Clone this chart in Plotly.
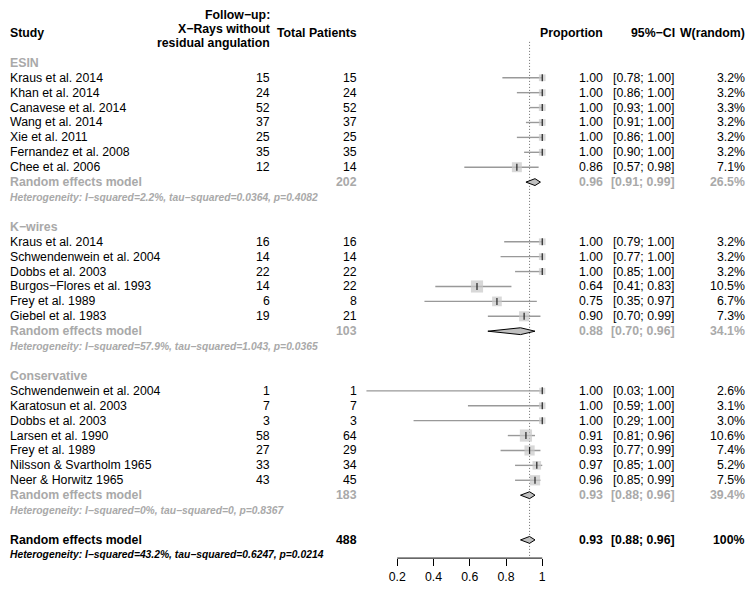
import plotly.graph_objects as go

# ---- data ----
group_names = ["ESIN", "K−wires", "Conservative"]

study_names = [
    ["Kraus et al. 2014", "Khan et al. 2014", "Canavese et al. 2014", "Wang et al. 2014",
     "Xie et al. 2011", "Fernandez et al. 2008", "Chee et al. 2006"],
    ["Kraus et al. 2014", "Schwendenwein et al. 2004", "Dobbs et al. 2003",
     "Burgos−Flores et al. 1993", "Frey et al. 1989", "Giebel et al. 1983"],
    ["Schwendenwein et al. 2004", "Karatosun et al. 2003", "Dobbs et al. 2003",
     "Larsen et al. 1990", "Frey et al. 1989", "Nilsson & Svartholm 1965", "Neer & Horwitz 1965"],
]
events = [[15, 24, 52, 37, 25, 35, 12], [16, 14, 22, 14, 6, 19], [1, 7, 3, 58, 27, 33, 43]]
totals = [[15, 24, 52, 37, 25, 35, 14], [16, 14, 22, 22, 8, 21], [1, 7, 3, 64, 29, 34, 45]]
proportion = [[1.00, 1.00, 1.00, 1.00, 1.00, 1.00, 0.86],
              [1.00, 1.00, 1.00, 0.64, 0.75, 0.90],
              [1.00, 1.00, 1.00, 0.91, 0.93, 0.97, 0.96]]
ci_lower = [[0.78, 0.86, 0.93, 0.91, 0.86, 0.90, 0.57],
            [0.79, 0.77, 0.85, 0.41, 0.35, 0.70],
            [0.03, 0.59, 0.29, 0.81, 0.77, 0.85, 0.85]]
ci_upper = [[1.00, 1.00, 1.00, 1.00, 1.00, 1.00, 0.98],
            [1.00, 1.00, 1.00, 0.83, 0.97, 0.99],
            [1.00, 1.00, 1.00, 0.96, 0.99, 1.00, 0.99]]
weights = [[3.2, 3.2, 3.3, 3.2, 3.2, 3.2, 7.1],
           [3.2, 3.2, 3.2, 10.5, 6.7, 7.3],
           [2.6, 3.1, 3.0, 10.6, 7.4, 5.2, 7.5]]

sub_total = [202, 103, 183]
sub_est = [0.96, 0.88, 0.93]
sub_lower = [0.91, 0.70, 0.88]
sub_upper = [0.99, 0.96, 0.96]
sub_weight = ["26.5%", "34.1%", "39.4%"]
sub_het = ["I−squared=2.2%, tau−squared=0.0364, p=0.4082",
           "I−squared=57.9%, tau−squared=1.043, p=0.0365",
           "I−squared=0%, tau−squared=0, p=0.8367"]

overall_total = 488
overall_est = 0.93
overall_lower = 0.88
overall_upper = 0.96
overall_weight = "100%"
overall_het = "I−squared=43.2%, tau−squared=0.6247, p=0.0214"

tick_vals = [0.2, 0.4, 0.6, 0.8, 1.0]
tick_text = ["0.2", "0.4", "0.6", "0.8", "1"]

# ---- layout constants (window pixels; page body adds an 8px margin) ----
PAGE_MARGIN = 8
W, H = 755 - PAGE_MARGIN, 592 - 2 * PAGE_MARGIN
ROW0, ROWH = 78, 14.96          # window y of first study row, row height
X0PX, XUNIT = 361, 181.25       # window x of proportion 0, pixels per unit
AXIS_ROW = 32.22
FONT = "Liberation Sans, Arial, sans-serif"
FS = 12.3
GREY = "#a9a9a9"

COL_NAME, COL_EV, COL_TOT = 1, 272, 359
COL_PROP, COL_CI, COL_W = 605, 677, 747


def px_to_row(py):
    return (py - ROW0) / ROWH


def fmt(v):
    return f"{v:.2f}"


annotations = []


def text(px, row, s, anchor="right", color="black", size=FS, bold=False, italic=False):
    if bold:
        s = f"<b>{s}</b>"
    if italic:
        s = f"<i>{s}</i>"
    xp = max(px - PAGE_MARGIN, 0) / W
    annotations.append(dict(
        x=xp, xref="paper", y=row, yref="y", text=s, showarrow=False,
        xanchor=anchor, yanchor="middle", font=dict(family=FONT, size=size, color=color),
    ))


# header
text(COL_NAME, px_to_row(33), "Study", anchor="left", bold=True)
text(COL_EV, px_to_row(15), "Follow−up:", bold=True)
text(COL_EV, px_to_row(29), "X−Rays without", bold=True)
text(COL_EV, px_to_row(43), "residual angulation", bold=True)
text(COL_TOT, px_to_row(33), "Total Patients", bold=True)
text(COL_PROP, px_to_row(33), "Proportion", bold=True)
text(COL_CI, px_to_row(33), "95%−CI", bold=True)
text(COL_W, px_to_row(33), "W(random)", bold=True)

ci_x, ci_y = [], []
sq_x, sq_y, sq_size = [], [], []
diamonds = []

row = -1
for g, gname in enumerate(group_names):
    text(COL_NAME, row, gname, anchor="left", color=GREY, bold=True)
    row += 1
    for i, name in enumerate(study_names[g]):
        text(COL_NAME, row, name, anchor="left")
        text(COL_EV, row, str(events[g][i]))
        text(COL_TOT, row, str(totals[g][i]))
        text(COL_PROP, row, fmt(proportion[g][i]))
        text(COL_CI, row, f"[{fmt(ci_lower[g][i])}; {fmt(ci_upper[g][i])}]")
        text(COL_W, row, f"{weights[g][i]}%")
        ci_x += [ci_lower[g][i], ci_upper[g][i], None]
        ci_y += [row, row, None]
        sq_x.append(proportion[g][i])
        sq_y.append(row)
        sq_size.append(3.745 * weights[g][i] ** 0.5)
        row += 1
    text(COL_NAME, row, "Random effects model", anchor="left", color=GREY, bold=True)
    text(COL_TOT, row, str(sub_total[g]), color=GREY, bold=True)
    text(COL_PROP, row, fmt(sub_est[g]), color=GREY, bold=True)
    text(COL_CI, row, f"[{fmt(sub_lower[g])}; {fmt(sub_upper[g])}]", color=GREY, bold=True)
    text(COL_W, row, sub_weight[g], color=GREY, bold=True)
    diamonds.append((sub_lower[g], sub_est[g], sub_upper[g], row))
    row += 1
    text(COL_NAME, row, "Heterogeneity: " + sub_het[g], anchor="left", color=GREY,
         size=10.3, bold=True, italic=True)
    row += 2

text(COL_NAME, row, "Random effects model", anchor="left", bold=True)
text(COL_TOT, row, str(overall_total), bold=True)
text(COL_PROP, row, fmt(overall_est), bold=True)
text(COL_CI, row, f"[{fmt(overall_lower)}; {fmt(overall_upper)}]", bold=True)
text(COL_W, row, overall_weight, bold=True)
diamonds.append((overall_lower, overall_est, overall_upper, row))
text(COL_NAME, row + 1, "Heterogeneity: " + overall_het, anchor="left",
     size=10.3, bold=True, italic=True)

fig = go.Figure()

# reference line at overall estimate
fig.add_trace(go.Scatter(
    x=[overall_est, overall_est], y=[px_to_row(42), AXIS_ROW], mode="lines",
    line=dict(color="#6e6e6e", width=1, dash="1px,2px"), hoverinfo="skip",
))

# confidence intervals
fig.add_trace(go.Scatter(
    x=ci_x, y=ci_y, mode="lines", line=dict(color="#999999", width=1.4), hoverinfo="skip",
))

# weighted squares
fig.add_trace(go.Scatter(
    x=sq_x, y=sq_y, mode="markers",
    marker=dict(symbol="square", size=sq_size, color="#c8c8c8", line=dict(width=0)),
    hoverinfo="skip",
))

# point estimate ticks
fig.add_trace(go.Scatter(
    x=sq_x, y=sq_y, mode="markers",
    marker=dict(symbol="line-ns", size=5, line=dict(color="#222222", width=1.2)),
    hoverinfo="skip",
))

# pooled diamonds
HALF = 0.23
for lo, est, hi, r in diamonds:
    fig.add_trace(go.Scatter(
        x=[lo, est, hi, est, lo], y=[r, r - HALF, r, r + HALF, r],
        mode="lines", fill="toself", fillcolor="#c0c0c0",
        line=dict(color="black", width=1), hoverinfo="skip",
    ))

# x-axis baseline only between first and last tick
axis_px = ROW0 + AXIS_ROW * ROWH
axis_paper = 1 - (axis_px - PAGE_MARGIN) / H
fig.add_shape(type="line", xref="x", yref="paper",
              x0=tick_vals[0], x1=tick_vals[-1], y0=axis_paper, y1=axis_paper,
              line=dict(color="black", width=1))

fig.update_layout(
    width=W, height=H,
    margin=dict(l=0, r=0, t=0, b=0),
    paper_bgcolor="white", plot_bgcolor="white",
    showlegend=False,
    annotations=annotations,
    xaxis=dict(
        domain=[0, 1],
        range=[-(X0PX - PAGE_MARGIN) / XUNIT, (W + PAGE_MARGIN - X0PX) / XUNIT],
        tickvals=tick_vals, ticktext=tick_text,
        ticks="outside", ticklen=7, tickwidth=1, tickcolor="black",
        tickfont=dict(family=FONT, size=FS, color="black"),
        showgrid=False, zeroline=False, showline=False,
    ),
    yaxis=dict(
        domain=[axis_paper, 1],
        range=[AXIS_ROW, px_to_row(PAGE_MARGIN)],
        visible=False, showgrid=False, zeroline=False,
    ),
)

fig.write_html("out.html")
